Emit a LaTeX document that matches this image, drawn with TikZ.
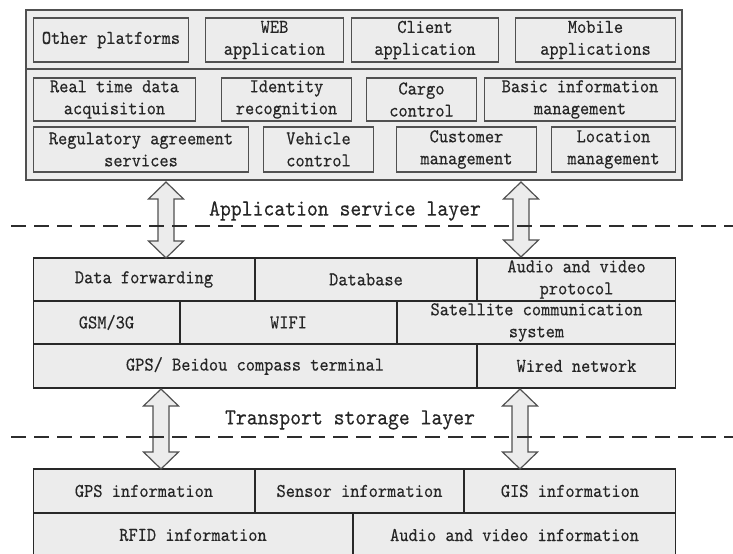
\documentclass[tikz,border=0pt]{standalone}
\usepackage{fontspec}
\setmonofont[FakeStretch=0.9,FakeBold=0.3]{lmmono10-regular.otf}
\definecolor{cellfill}{RGB}{236,236,236}
\definecolor{boxline}{RGB}{80,80,80}
\definecolor{gridline}{RGB}{40,40,40}
\definecolor{dashcol}{RGB}{45,45,45}
\newcommand{\blockarrow}[3]{%
  \draw[bigarrow] (#1,#2) -- ++(17.5,17) -- ++(-9.5,0) -- (#1+8,#3-17) -- ++(9.5,0)
    -- (#1,#3) -- ++(-17.5,-17) -- ++(9.5,0) -- (#1-8,#2+17) -- ++(-9.5,0) -- cycle;}
\begin{document}
\begin{tikzpicture}[x=1bp,y=-1bp,
  txt/.style={font=\ttfamily\fontsize{19.5bp}{22bp}\selectfont, align=center, text=black!85},
  appbox/.style={txt, draw=boxline, fill=cellfill, line width=1.2bp, inner sep=0pt},
  cell/.style={txt, draw=gridline, fill=cellfill, line width=1.2bp, inner sep=0pt},
  layerlabel/.style={font=\ttfamily\fontsize{23bp}{26bp}\selectfont, text=black!85, inner sep=0pt},
  dashline/.style={draw=dashcol, line width=2bp, dash pattern=on 15bp off 8bp},
  bigarrow/.style={draw=boxline, fill=cellfill, line width=1.2bp, line join=miter}]
\clip (0,0) rectangle (733,554);
\fill[white] (0,0) rectangle (733,554);

% top application box
\draw[draw=boxline, fill=cellfill, line width=1.3bp] (26,10) rectangle (682,180);
\draw[draw=boxline, line width=1.3bp] (26,69) -- (682,69);

\node[appbox, minimum width=156, minimum height=44] (oth) at (111,40) {Other platforms};
\node[appbox, minimum width=139, minimum height=44] (web) at (274.5,40) {WEB\\application};
\node[appbox, minimum width=148, minimum height=44] (cli) at (425,40) {Client\\application};
\node[appbox, minimum width=161, minimum height=44] (mob) at (595.5,40) {Mobile\\applications};

\node[appbox, minimum width=163, minimum height=43] (rtd) at (114.5,99.5) {Real time data\\acquisition};
\node[appbox, minimum width=131, minimum height=43] (idr) at (286.5,99.5) {Identity\\recognition};
\node[appbox, minimum width=111, minimum height=43] (cgo) at (421.5,99.5) {Cargo\\control};
\node[appbox, minimum width=192, minimum height=43] (bim) at (580,99.5) {Basic information\\management};

\node[appbox, minimum width=216, minimum height=45] (reg) at (141,149.5) {Regulatory agreement\\services};
\node[appbox, minimum width=111, minimum height=45] (veh) at (318.5,149.5) {Vehicle\\control};
\node[appbox, minimum width=141, minimum height=45] (cus) at (466.5,149.5) {Customer\\management};
\node[appbox, minimum width=125, minimum height=45] (loc) at (613.5,149.5) {Location\\management};

% middle block
\node[cell, minimum width=222, minimum height=43] (df) at (144,279.5) {Data forwarding};
\node[cell, minimum width=222, minimum height=43] (db) at (366,279.5) {Database};
\node[cell, minimum width=199, minimum height=43] (avp) at (576.5,279.5) {Audio and video\\protocol};
\node[cell, minimum width=147, minimum height=43] (gsm) at (106.5,322.5) {GSM/3G};
\node[cell, minimum width=217, minimum height=43] (wifi) at (288.5,322.5) {WIFI};
\node[cell, minimum width=279, minimum height=43] (sat) at (536.5,322.5) {Satellite communication\\system};
\node[cell, minimum width=444, minimum height=44] (gps) at (255,366) {GPS/ Beidou compass terminal};
\node[cell, minimum width=199, minimum height=44] (wired) at (576.5,366) {Wired network};

% bottom block
\node[cell, minimum width=222, minimum height=44] (gpsi) at (144,491) {GPS information};
\node[cell, minimum width=209, minimum height=44] (sen) at (359.5,491) {Sensor information};
\node[cell, minimum width=212, minimum height=44] (gis) at (570,491) {GIS information};
\node[cell, minimum width=320, minimum height=44] (rfid) at (193,535) {RFID information};
\node[cell, minimum width=323, minimum height=44] (avi) at (514.5,535) {Audio and video information};

% block arrows
\blockarrow{166}{182}{258}
\blockarrow{521}{182}{257}
\blockarrow{161}{389}{469}
\blockarrow{520}{389}{469}

% layer separators
\draw[dashline] (11,226) -- (733,226);
\draw[dashline] (11,437) -- (733,437);
\node[layerlabel] (l1) at (345,211) {Application service layer};
\node[layerlabel] (l2) at (350,420) {Transport storage layer};
\end{tikzpicture}
\end{document}
